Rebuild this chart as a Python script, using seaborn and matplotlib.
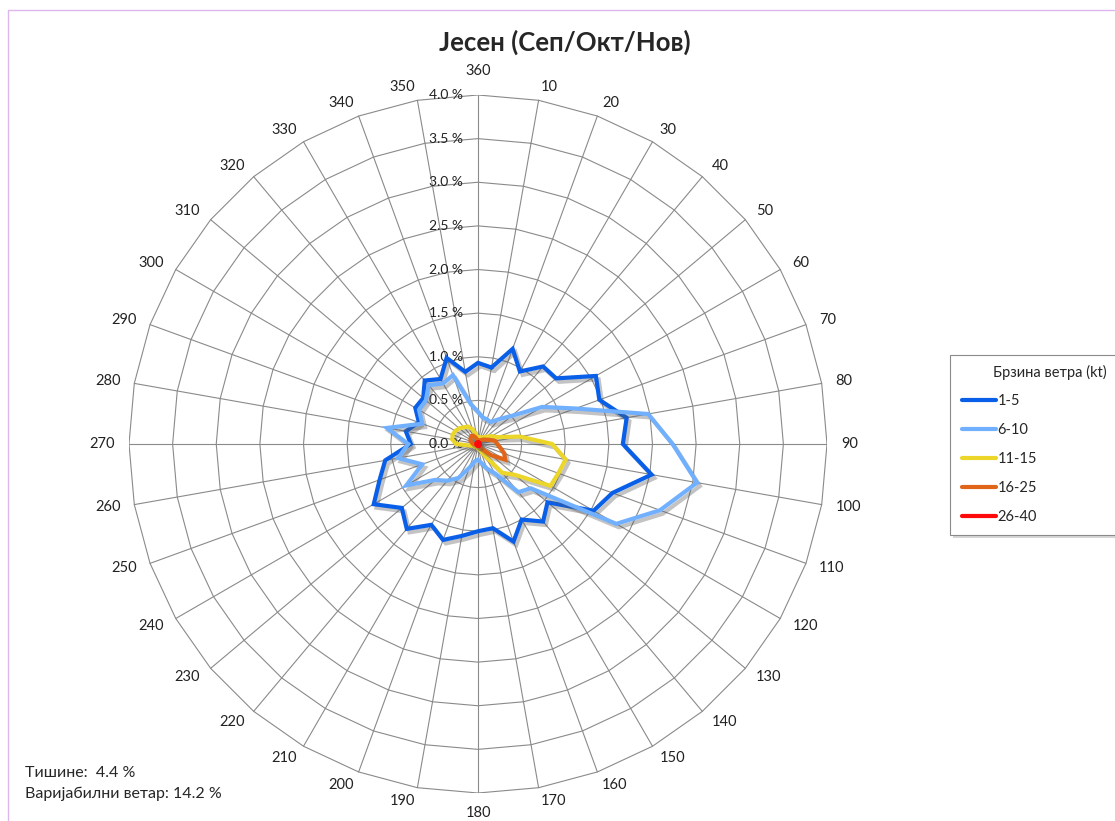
import numpy as np
import pandas as pd
import matplotlib
matplotlib.use('Agg')
import matplotlib.pyplot as plt
import matplotlib.patheffects as pe
from matplotlib.lines import Line2D
from matplotlib.patches import Rectangle
import seaborn as sns

# Data: wind direction (deg) and frequency (%) per speed class
directions = list(range(10, 361, 10))

speed_1_5 = [0.89, 1.16, 0.96, 1.16, 1.17, 1.56, 1.48, 1.73, 1.66, 2.02, 1.64, 1.53,
             1.04, 1.16, 1.00, 1.19, 0.98, 1.00, 1.07, 1.17, 1.07, 1.27, 1.14, 1.38,
             1.20, 1.08, 0.77, 0.84, 0.72, 0.83, 0.82, 0.95, 0.86, 1.05, 0.84, 0.93]
speed_6_10 = [0.31, 0.30, 0.29, 0.37, 0.50, 0.85, 1.19, 1.98, 2.23, 2.55, 2.22, 1.83,
              0.79, 0.72, 0.39, 0.30, 0.22, 0.18, 0.20, 0.29, 0.45, 0.55, 0.64, 0.95,
              0.68, 0.93, 0.80, 1.06, 0.68, 0.78, 0.78, 0.88, 0.80, 0.84, 0.46, 0.37]
speed_11_15 = [0.08, 0.08, 0.08, 0.10, 0.13, 0.18, 0.23, 0.49, 0.85, 1.02, 0.98, 0.96,
               0.55, 0.43, 0.15, 0.08, 0.05, 0.05, 0.04, 0.04, 0.04, 0.04, 0.05, 0.05,
               0.06, 0.10, 0.25, 0.30, 0.31, 0.30, 0.28, 0.25, 0.23, 0.18, 0.10, 0.06]
speed_16_25 = [0.03, 0.04, 0.05, 0.06, 0.08, 0.10, 0.14, 0.20, 0.22, 0.26, 0.32, 0.36,
               0.20, 0.08, 0.03, 0.02, 0.02, 0.02, 0.02, 0.02, 0.02, 0.02, 0.02, 0.02,
               0.02, 0.03, 0.05, 0.07, 0.09, 0.10, 0.11, 0.12, 0.11, 0.08, 0.05, 0.03]
speed_26_40 = [0.02] * 36

series = {'1-5': speed_1_5, '6-10': speed_6_10, '11-15': speed_11_15,
          '16-25': speed_16_25, '26-40': speed_26_40}
colors = {'1-5': '#0a5fe8', '6-10': '#70b0ff', '11-15': '#ecd62a',
          '16-25': '#e06518', '26-40': '#ff0a0a'}
ring_values = [0.5, 1.0, 1.5, 2.0, 2.5, 3.0, 3.5, 4.0]

title = 'Јесен (Сеп/Окт/Нов)'
legend_title = 'Брзина ветра (kt)'
calm_text = 'Тишине:  4.4 %'
variable_text = 'Варијабилни ветар: 14.2 %'

# long table, closed polygons (Excel radar style: straight segments)
rows = []
for name, vals in series.items():
    for i, (d, v) in enumerate(list(zip(directions, vals)) + [(directions[0], vals[0])]):
        a = np.deg2rad(d)
        rows.append({'speed': name, 'order': i, 'x': v * np.sin(a), 'y': v * np.cos(a)})
df = pd.DataFrame(rows)

sns.set_style('white')
plt.rcParams['font.family'] = ['Lato', 'Noto Sans', 'DejaVu Sans']

W, H = 1115, 821
fig = plt.figure(figsize=(W / 100, H / 100), dpi=100)
cx, cy, R = 478, H - 444, 349
ax = fig.add_axes([(cx - R) / W, (cy - R) / H, 2 * R / W, 2 * R / H])
ax.set_xlim(-4, 4)
ax.set_ylim(-4, 4)
ax.set_aspect('equal')
ax.axis('off')

# polygon grid
ang = np.deg2rad(directions + [directions[0]])
for rv in ring_values:
    ax.plot(rv * np.sin(ang), rv * np.cos(ang), color='#8a8a8a', lw=0.8, zorder=1)
for d in directions:
    a = np.deg2rad(d)
    ax.plot([0, 4 * np.sin(a)], [0, 4 * np.cos(a)], color='#8a8a8a', lw=0.8, zorder=1)

# direction labels, anchored outside the outer ring like Excel does
for d in directions:
    a = np.deg2rad(d)
    s, c = np.sin(a), np.cos(a)
    if d == 360:
        ha, off = 'center', (0, 24)
    elif d == 180:
        ha, off = 'center', (0, -20)
    else:
        ha = 'left' if s > 0 else 'right'
        off = (14 * s, 14 * c)
    ax.annotate(str(d), xy=(4 * s, 4 * c), xytext=off, textcoords='offset pixels',
                ha=ha, va='center', fontsize=10.5, color='#222222')

# radial labels
for rv in [0.0] + ring_values:
    ax.text(-0.17, rv, f'{rv:.1f} %', ha='right', va='center', fontsize=10, color='#222222', zorder=2)

# series
shadow = [pe.SimpleLineShadow(offset=(2, -2.5), shadow_color='#555555', alpha=0.35), pe.Normal()]
sns.lineplot(data=df, x='x', y='y', hue='speed', units='speed', sort=False, estimator=None,
             palette=colors, lw=3, legend=False, ax=ax, zorder=3)
for line in ax.lines[-len(series):]:
    line.set_path_effects(shadow)
    line.set_solid_joinstyle('miter')
ax.plot([0], [0], 'o', color=colors['26-40'], ms=4, zorder=4)

fig.text(565 / W, 1 - 42 / H, title, ha='center', va='center', fontsize=18.5, fontweight='bold')

# legend box
fig.add_artist(Rectangle((953 / W, 1 - 538 / H), 180 / W, 180 / H, transform=fig.transFigure,
                         facecolor='#bbbbbb', edgecolor='none', alpha=0.6))
fig.add_artist(Rectangle((950 / W, 1 - 535 / H), 180 / W, 180 / H, transform=fig.transFigure,
                         facecolor='white', edgecolor='#8a8a8a', lw=0.8))
fig.text(993 / W, 1 - 372 / H, legend_title, ha='left', va='center', fontsize=10.5)
handles = [Line2D([], [], color=colors[k], lw=3) for k in series]
leg = fig.legend(handles, list(series.keys()), loc='upper left',
                 bbox_to_anchor=(955 / W, 1 - 387 / H), frameon=False, fontsize=10.5,
                 handlelength=2.3, handletextpad=0.1, labelspacing=1.03, borderpad=0)

fig.text(25 / W, 1 - 773 / H, calm_text, ha='left', va='center', fontsize=11.5)
fig.text(25 / W, 1 - 794 / H, variable_text, ha='left', va='center', fontsize=11.5)

# outer frame
fig.add_artist(Rectangle((8 / W, -0.1), 1.2, 1 - 10 / H + 0.1, transform=fig.transFigure,
                         facecolor='none', edgecolor='#dcb6ec', lw=1))

fig.savefig('out.png', dpi=100)
